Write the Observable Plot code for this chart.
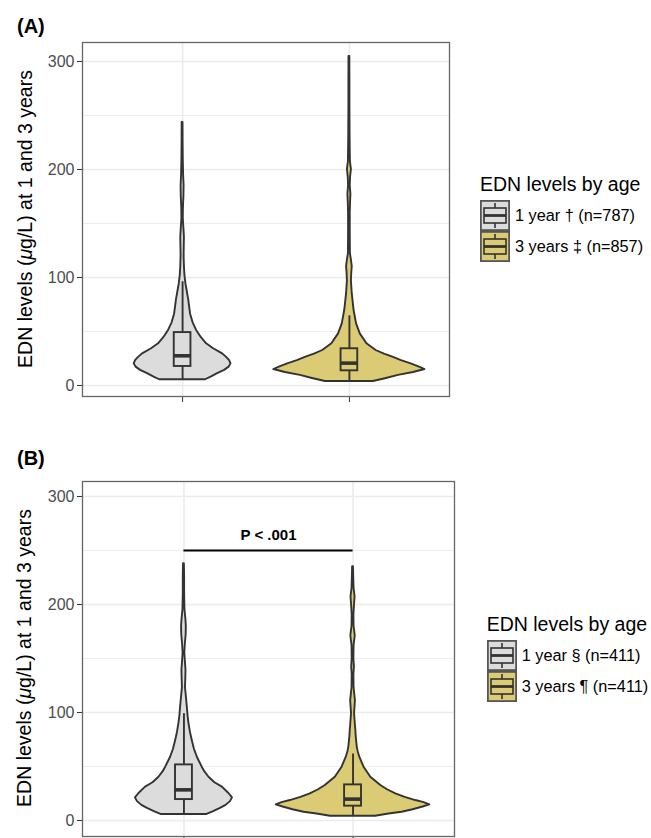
<!DOCTYPE html>
<html>
<head>
<meta charset="utf-8">
<script src="https://cdn.jsdelivr.net/npm/d3@7"></script>
<script src="https://cdn.jsdelivr.net/npm/@observablehq/plot@0.6"></script>
<style>
  html, body { margin: 0; padding: 0; background: #fff; }
  #fig { position: relative; width: 651px; height: 838px; overflow: hidden; font-family: "Liberation Sans", Arial, Helvetica, sans-serif; }
  .abs { position: absolute; }
  .tag { font-weight: bold; font-size: 20px; color: #000; line-height: 22px; }
  .ytitle { font-size: 19.5px; color: #000; white-space: nowrap; transform: translate(-50%, -50%) rotate(-90deg); line-height: 22px; }
  .legend-title { font-size: 19.5px; line-height: 22px; color: #000; white-space: nowrap; }
  .legend-row { display: flex; align-items: center; height: 31px; }
  .legend-row span { font-size: 16.3px; margin-left: 5px; color: #000; white-space: nowrap; }
</style>
</head>
<body>
<div id="fig"></div>
<script>
// ---------- data ----------
const categories = ["1 year", "3 years"];
const fillColors = ["#DCDCDC", "#DBCB74"];
const yTicks = [0, 100, 200, 300];
const yMinorTicks = [50, 150, 250];

// Panel A legend labels
const legendLabelsA = ["1 year \u2020 (n=787)", "3 years \u2021 (n=857)"];
// Panel B legend labels
const legendLabelsB = ["1 year \u00A7 (n=411)", "3 years \u00B6 (n=411)"];
const legendTitle = "EDN levels by age";
const yTitleHTML = "EDN levels (<i>\u03BC</i>g/L) at 1 and 3 years";

// Panel A violins: EDN level and violin half-width (category units)
const levelsA1 = [5.3, 8, 11, 14, 17, 20, 23, 26, 29.3, 34, 38.6, 44, 51, 58, 66, 73, 79, 87, 94, 102, 110, 120, 130, 137, 145, 155, 165, 175, 185, 195, 210, 225, 243.5];
const widthsA1 = [0.138, 0.174, 0.210, 0.252, 0.279, 0.290, 0.282, 0.264, 0.240, 0.186, 0.144, 0.114, 0.084, 0.063, 0.048, 0.042, 0.037, 0.028, 0.020, 0.014, 0.011, 0.009, 0.010, 0.011, 0.008, 0.004, 0.005, 0.008, 0.009, 0.006, 0.004, 0.003, 0.0025];
const levelsA2 = [3.7, 6.5, 9.3, 12, 14.8, 17, 20, 23, 26.2, 29, 32.4, 38.6, 47.8, 57, 69.4, 85, 97, 104, 110, 116, 122, 140, 160, 170, 177, 185, 193, 200, 207, 230, 260, 280, 304.6];
const widthsA2 = [0.144, 0.222, 0.294, 0.384, 0.453, 0.420, 0.370, 0.312, 0.260, 0.210, 0.160, 0.105, 0.065, 0.043, 0.028, 0.017, 0.012, 0.014, 0.017, 0.012, 0.006, 0.005, 0.005, 0.007, 0.009, 0.005, 0.007, 0.012, 0.006, 0.004, 0.003, 0.003, 0.0025];

// Panel A boxplots
const lowA = [5.3, 3.7];
const q1A = [17.6, 13.6];
const medA = [27.5, 20.7];
const q3A = [49, 34];
const highA = [96, 64.5];

// Panel B violins
const levelsB1 = [5.6, 8, 11, 14, 17.5, 21, 25, 30.9, 35, 40.1, 45, 49.4, 58.6, 66, 74, 82, 89.5, 97, 105, 115, 123, 132, 139, 148, 155, 163, 172, 180, 187, 195, 210, 225, 237.7];
const widthsB1 = [0.136, 0.172, 0.213, 0.249, 0.275, 0.287, 0.266, 0.227, 0.183, 0.148, 0.124, 0.108, 0.079, 0.062, 0.049, 0.038, 0.030, 0.024, 0.020, 0.014, 0.009, 0.011, 0.012, 0.008, 0.005, 0.008, 0.013, 0.014, 0.011, 0.006, 0.004, 0.004, 0.0025];
const levelsB2 = [4, 6, 7.7, 10, 12.5, 14.5, 16.5, 18.5, 21.5, 24.7, 28.5, 32.4, 40.1, 49.4, 58.6, 64, 68, 74, 79, 83, 88, 92.6, 99, 106, 111, 117, 123, 135, 142, 150, 162, 171, 180, 190, 198, 207, 215, 225, 235];
const widthsB2 = [0.133, 0.213, 0.290, 0.355, 0.414, 0.454, 0.420, 0.371, 0.308, 0.253, 0.204, 0.164, 0.105, 0.065, 0.040, 0.030, 0.025, 0.021, 0.018, 0.017, 0.014, 0.012, 0.009, 0.012, 0.014, 0.010, 0.006, 0.005, 0.008, 0.005, 0.006, 0.013, 0.006, 0.005, 0.008, 0.012, 0.006, 0.004, 0.0025];

// Panel B boxplots
const lowB = [5.6, 4];
const q1B = [19.4, 13.3];
const medB = [28.4, 19.8];
const q3B = [51.5, 33];
const highB = [98.8, 61.7];

// Panel B significance bracket
const bracketFrom = ["1 year"];
const bracketTo = ["3 years"];
const bracketLevel = [250];
const bracketLabel = ["P < .001"];

// ---------- drawing ----------
const FONT = '"Liberation Sans", Arial, Helvetica, sans-serif';
const STROKE = "#333333";
const SW = 1.9;
const pos = c => categories.indexOf(c) + 1;

function violinRows(levelsList, widthsList) {
  const rows = [];
  categories.forEach((c, i) => {
    levelsList[i].forEach((v, j) => rows.push({cat: c, v, hw: widthsList[i][j]}));
  });
  return rows;
}
function boxRows(low, q1, med, q3, high) {
  return categories.map((c, i) => ({cat: c, low: low[i], q1: q1[i], med: med[i], q3: q3[i], high: high[i]}));
}

function panel({violins, boxes, yDomain, width, height, margin, bracket}) {
  const boxHalf = 0.05;
  const marks = [
    Plot.gridY(yMinorTicks, {stroke: "#EBEBEB", strokeOpacity: 1, strokeWidth: 0.9}),
    Plot.gridY(yTicks, {stroke: "#EBEBEB", strokeOpacity: 1, strokeWidth: 1.6}),
    Plot.gridX([1, 2], {stroke: "#EBEBEB", strokeOpacity: 1, strokeWidth: 1.6}),
    Plot.areaX(violins, {y: "v", x1: d => pos(d.cat) - d.hw, x2: d => pos(d.cat) + d.hw, fill: "cat", z: "cat", stroke: STROKE, strokeWidth: SW, strokeLinejoin: "round"}),
    Plot.ruleX(boxes, {x: d => pos(d.cat), y1: "low", y2: "q1", stroke: STROKE, strokeWidth: SW}),
    Plot.ruleX(boxes, {x: d => pos(d.cat), y1: "q3", y2: "high", stroke: STROKE, strokeWidth: SW}),
    Plot.rect(boxes, {x1: d => pos(d.cat) - boxHalf, x2: d => pos(d.cat) + boxHalf, y1: "q1", y2: "q3", fill: "cat", stroke: STROKE, strokeWidth: SW}),
    Plot.ruleY(boxes, {y: "med", x1: d => pos(d.cat) - boxHalf, x2: d => pos(d.cat) + boxHalf, stroke: STROKE, strokeWidth: 3.6}),
    Plot.axisY(yTicks, {tickSize: 5, tickPadding: 3, stroke: STROKE, fill: "#4D4D4D", fontSize: 16, label: null}),
    Plot.axisX([1, 2], {tickSize: 6, stroke: STROKE, tickFormat: () => "", label: null}),
    Plot.frame({stroke: "#666", strokeWidth: 1.3})
  ];
  if (bracket) {
    const rows = bracket.from.map((f, i) => ({from: f, to: bracket.to[i], level: bracket.level[i], label: bracket.label[i]}));
    marks.push(Plot.ruleY(rows, {y: "level", x1: d => pos(d.from), x2: d => pos(d.to), stroke: "#000", strokeWidth: 1.9}));
    marks.push(Plot.text(rows, {y: "level", x: d => (pos(d.from) + pos(d.to)) / 2, text: "label", dy: -15, fontWeight: "bold", fontSize: 15, fill: "#000"}));
  }
  return Plot.plot({
    width, height,
    marginLeft: margin[0], marginRight: margin[1], marginTop: margin[2], marginBottom: margin[3],
    x: {type: "linear", domain: [0.4, 2.6], axis: null},
    y: {domain: yDomain, axis: null},
    color: {domain: categories, range: fillColors},
    style: {fontFamily: FONT, fontSize: "16px", color: "#4D4D4D", overflow: "visible", background: "transparent"},
    marks
  });
}

function legendKey(fill) {
  const ns = "http://www.w3.org/2000/svg";
  const svg = document.createElementNS(ns, "svg");
  svg.setAttribute("width", 30); svg.setAttribute("height", 31);
  svg.innerHTML =
    `<rect x="0.9" y="0.9" width="28.2" height="29.2" fill="${fill}" stroke="#555" stroke-width="1.8"/>` +
    `<line x1="15" y1="3" x2="15" y2="8" stroke="${STROKE}" stroke-width="1.6"/>` +
    `<line x1="15" y1="23" x2="15" y2="28" stroke="${STROKE}" stroke-width="1.6"/>` +
    `<rect x="4" y="8" width="22" height="15" fill="${fill}" stroke="${STROKE}" stroke-width="1.6"/>` +
    `<line x1="4" y1="15.5" x2="26" y2="15.5" stroke="${STROKE}" stroke-width="2.8"/>`;
  return svg;
}

function legend(left, top, labels) {
  const div = document.createElement("div");
  div.className = "abs";
  div.style.left = left + "px"; div.style.top = top + "px";
  const t = document.createElement("div");
  t.className = "legend-title"; t.textContent = legendTitle; t.style.marginBottom = "5px";
  div.appendChild(t);
  labels.forEach((lab, i) => {
    const row = document.createElement("div");
    row.className = "legend-row";
    row.appendChild(legendKey(fillColors[i]));
    const s = document.createElement("span"); s.textContent = lab;
    row.appendChild(s);
    div.appendChild(row);
  });
  return div;
}

function place(el, left, top) {
  el.style.position = "absolute"; el.style.left = left + "px"; el.style.top = top + "px";
  return el;
}

const fig = document.getElementById("fig");

// Panel A
const plotA = panel({
  violins: violinRows([levelsA1, levelsA2], [widthsA1, widthsA2]),
  boxes: boxRows(lowA, q1A, medA, q3A, highA),
  yDomain: [-10.2, 317.6], width: 460, height: 410, margin: [82, 11, 42, 14]
});
fig.appendChild(place(plotA, 0, 0));

// Panel B
const plotB = panel({
  violins: violinRows([levelsB1, levelsB2], [widthsB1, widthsB2]),
  boxes: boxRows(lowB, q1B, medB, q3B, highB),
  yDomain: [-14.8, 313.9], width: 460, height: 418, margin: [82, 6, 61, 2],
  bracket: {from: bracketFrom, to: bracketTo, level: bracketLevel, label: bracketLabel}
});
fig.appendChild(place(plotB, 0, 420));

// Tags
const tagA = document.createElement("div"); tagA.className = "abs tag"; tagA.textContent = "(A)";
tagA.style.left = "17px"; tagA.style.top = "15px"; fig.appendChild(tagA);
const tagB = document.createElement("div"); tagB.className = "abs tag"; tagB.textContent = "(B)";
tagB.style.left = "17px"; tagB.style.top = "447px"; fig.appendChild(tagB);

// Y titles
[[25, 219], [24, 658]].forEach(([x, y]) => {
  const d = document.createElement("div"); d.className = "abs ytitle"; d.innerHTML = yTitleHTML;
  d.style.left = x + "px"; d.style.top = y + "px"; fig.appendChild(d);
});

// Legends
fig.appendChild(legend(480, 173, legendLabelsA));
fig.appendChild(legend(486.7, 613, legendLabelsB));
</script>
</body>
</html>
